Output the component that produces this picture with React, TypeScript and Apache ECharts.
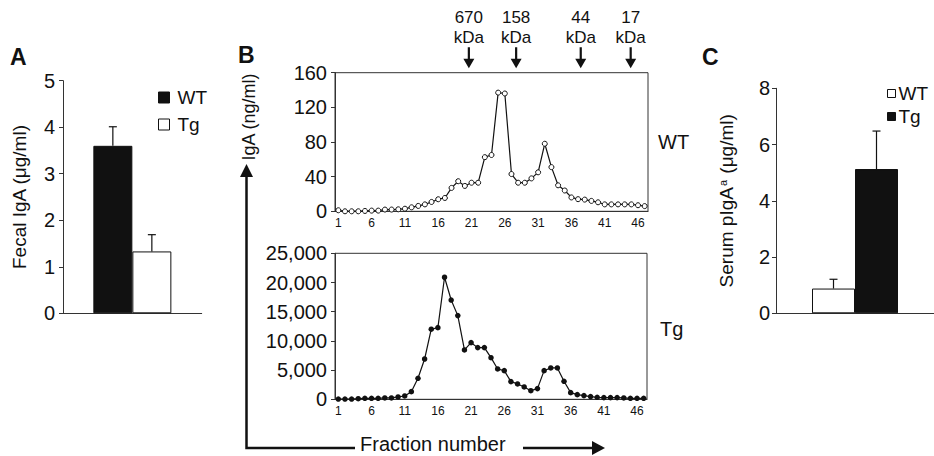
import React, { useEffect, useRef } from "react";
import * as echarts from "echarts";

// ---------- data ----------
const fractions = [
  "1","2","3","4","5","6","7","8","9","10","11","12","13","14","15","16","17","18","19","20",
  "21","22","23","24","25","26","27","28","29","30","31","32","33","34","35","36","37","38","39","40",
  "41","42","43","44","45","46","47",
];
// Panel B, WT serum fractions, IgA (ng/ml)
const wtIgA = [
  1.2, 0, 0, 0, 0.4, 0.8, 0.8, 2, 2, 2.3, 3, 4.6, 6.2, 8, 10.8, 13.9, 15.4, 27, 34.7, 29.3,
  33, 33, 62.5, 65, 137, 136, 43, 33, 33, 38, 45, 78, 51, 30, 24, 16, 14, 13.5, 12, 10.4,
  8, 8, 8, 8, 8, 7, 6,
];
// Panel B, Tg serum fractions, IgA (ng/ml)
const tgIgA = [
  50, 50, 50, 100, 170, 170, 170, 230, 230, 400, 570, 1310, 3600, 6900, 12000, 12270, 20900, 17000, 14330, 8450,
  9700, 8850, 8850, 7130, 5190, 4910, 3030, 2630, 2110, 1480, 1830, 4910, 5370, 5370, 3080, 1140, 800, 630, 460, 340,
  290, 290, 290, 230, 170, 170, 170,
];
// size markers (elution position in fraction number)
const markerLabels = ["670", "158", "44", "17"];
const markerFractions = [20.6, 27.7, 37.4, 44.9];

// Panel A: fecal IgA (µg/ml)
const groups = ["WT", "Tg"];
const fecalMean = [3.6, 1.33];
const fecalErr = [0.41, 0.36];
// Panel C: serum pIgA^a (µg/ml)
const serumMean = [0.88, 5.13];
const serumErr = [0.33, 1.35];

// ---------- styles ----------
const FONT = "'Liberation Sans', Arial, Helvetica, sans-serif";
const INK = "#111";
const AXIS = "#333";
const BAR_A = 39;
const BAR_C = 43;

const errorRender = (barW: number) => (params: any, api: any) => {
  const c = api.value(0);
  const m = api.value(1);
  const e = api.value(2);
  const side = api.value(3);
  const base = api.coord([c, m]);
  const top = api.coord([c, m + e]);
  const x = base[0] + (side * barW) / 2;
  const st = { stroke: INK, lineWidth: 1.2 };
  return {
    type: "group",
    children: [
      { type: "line", shape: { x1: x, y1: base[1], x2: x, y2: top[1] }, style: st },
      { type: "line", shape: { x1: x - 4, y1: top[1], x2: x + 4, y2: top[1] }, style: st },
    ],
  };
};

const yAxisBase = (grid: number) => ({
  gridIndex: grid,
  type: "value" as const,
  splitLine: { show: false },
  axisLine: { show: true, lineStyle: { color: AXIS, width: 1 } },
  axisTick: { show: true, length: 4, lineStyle: { color: AXIS } },
  axisLabel: { color: INK, fontSize: 20, fontFamily: FONT, margin: 8 },
});

export default function App() {
  const ref = useRef<HTMLDivElement>(null);
  useEffect(() => {
    if (!ref.current) return;
    const chart = echarts.init(ref.current, undefined, { renderer: "svg" });
    const option: any = {
      animation: false,
      backgroundColor: "#fff",
      textStyle: { fontFamily: FONT, color: INK },
      grid: [
        { left: 63, top: 80.7, width: 138.7, height: 232.6 },
        { left: 335, top: 72.7, width: 313, height: 138.6, show: true, borderColor: AXIS, borderWidth: 1, backgroundColor: "transparent" },
        { left: 335, top: 253.3, width: 312, height: 146, show: true, borderColor: AXIS, borderWidth: 1, backgroundColor: "transparent" },
        { left: 776, top: 88.3, width: 170, height: 225 },
      ],
      xAxis: [
        { gridIndex: 0, type: "category", data: ["Fecal IgA"], axisTick: { show: false }, axisLabel: { show: false }, axisLine: { lineStyle: { color: AXIS } } },
        {
          gridIndex: 1, type: "category", data: fractions, boundaryGap: true,
          axisLine: { lineStyle: { color: AXIS } },
          axisTick: { interval: 0, length: 4, lineStyle: { color: AXIS } },
          axisLabel: { interval: 4, fontSize: 12, margin: 6, color: INK },
        },
        { gridIndex: 1, type: "value", min: 0.5, max: 47.5, show: false },
        {
          gridIndex: 2, type: "category", data: fractions, boundaryGap: true,
          axisLine: { lineStyle: { color: AXIS } },
          axisTick: { interval: 0, length: 4, lineStyle: { color: AXIS } },
          axisLabel: { interval: 4, fontSize: 12, margin: 6, color: INK },
        },
        { gridIndex: 3, type: "category", data: ["Serum pIgA"], axisTick: { show: false }, axisLabel: { show: false }, axisLine: { lineStyle: { color: AXIS } } },
      ],
      yAxis: [
        {
          ...yAxisBase(0), min: 0, max: 5, interval: 1,
          name: "Fecal IgA (μg/ml)", nameLocation: "middle", nameGap: 34,
          nameTextStyle: { fontSize: 19, color: INK, fontFamily: FONT },
        },
        { ...yAxisBase(1), min: 0, max: 160, interval: 40 },
        {
          ...yAxisBase(2), min: 0, max: 25000, interval: 5000,
          axisLabel: { ...yAxisBase(2).axisLabel, formatter: (v: number) => v.toLocaleString("en-US") },
        },
        {
          ...yAxisBase(3), min: 0, max: 8, interval: 2,
          axisLabel: { ...yAxisBase(3).axisLabel, margin: 6 },
          name: "Serum pIgA{sup|a} (μg/ml)", nameLocation: "middle", nameGap: 40,
          nameTextStyle: {
            fontSize: 19, color: INK, fontFamily: FONT,
            rich: { sup: { fontSize: 11, fontFamily: FONT, color: INK, verticalAlign: "top", padding: [0, 1, 6, 1] } },
          },
        },
      ],
      legend: [
        {
          left: 158, top: 88, orient: "vertical", padding: 0, itemGap: 8, itemWidth: 11, itemHeight: 11, icon: "rect",
          textStyle: { fontSize: 19, color: INK, fontFamily: FONT, padding: [0, 0, 0, 3] },
          data: [
            { name: "WT", itemStyle: { color: INK, borderColor: INK, borderWidth: 1 } },
            { name: "Tg", itemStyle: { color: "#fff", borderColor: INK, borderWidth: 1 } },
          ],
        },
        {
          left: 887, top: 84, orient: "vertical", padding: 0, itemGap: 4, itemWidth: 8, itemHeight: 8, icon: "rect",
          textStyle: { fontSize: 19, color: INK, fontFamily: FONT, padding: [0, 0, 0, -2] },
          data: [
            { name: "WT", itemStyle: { color: "#fff", borderColor: INK, borderWidth: 1 } },
            { name: "Tg", itemStyle: { color: INK, borderColor: INK, borderWidth: 1 } },
          ],
        },
      ],
      series: [
        // Panel A bars
        { name: groups[0], type: "bar", xAxisIndex: 0, yAxisIndex: 0, data: [fecalMean[0]], barWidth: BAR_A, barGap: "0%", itemStyle: { color: INK, borderColor: INK, borderWidth: 1 } },
        { name: groups[1], type: "bar", xAxisIndex: 0, yAxisIndex: 0, data: [fecalMean[1]], barWidth: BAR_A, barGap: "0%", itemStyle: { color: "#fff", borderColor: INK, borderWidth: 1 } },
        {
          type: "custom", xAxisIndex: 0, yAxisIndex: 0, renderItem: errorRender(BAR_A), z: 5,
          data: [[0, fecalMean[0], fecalErr[0], -1], [0, fecalMean[1], fecalErr[1], 1]],
        },
        // Panel B lines
        {
          name: "WT serum", type: "line", xAxisIndex: 1, yAxisIndex: 1, data: wtIgA,
          symbol: "circle", symbolSize: 5, showAllSymbol: true,
          lineStyle: { color: INK, width: 1.2 },
          itemStyle: { color: "#fff", borderColor: INK, borderWidth: 1 },
        },
        {
          name: "markers", type: "scatter", xAxisIndex: 2, yAxisIndex: 1, clip: false,
          data: markerFractions.map((f, i) => ({ name: markerLabels[i], value: [f, 160] })),
          symbol: "path://M4,0 L6,0 L6,12 L10,12 L5,22 L0,12 L4,12 Z",
          symbolSize: [11, 21], symbolOffset: [0, -15],
          itemStyle: { color: INK, opacity: 1 },
          label: { show: true, position: "top", distance: 0, formatter: "{b}\nkDa", fontSize: 17, lineHeight: 20, color: INK, opacity: 1, fontFamily: FONT },
        },
        {
          name: "Tg serum", type: "line", xAxisIndex: 3, yAxisIndex: 2, data: tgIgA,
          symbol: "circle", symbolSize: 5.5, showAllSymbol: true,
          lineStyle: { color: INK, width: 1.2 },
          itemStyle: { color: INK },
        },
        // Panel C bars
        { name: groups[0], type: "bar", xAxisIndex: 4, yAxisIndex: 3, data: [serumMean[0]], barWidth: BAR_C, barGap: "0%", itemStyle: { color: "#fff", borderColor: INK, borderWidth: 1 } },
        { name: groups[1], type: "bar", xAxisIndex: 4, yAxisIndex: 3, data: [serumMean[1]], barWidth: BAR_C, barGap: "0%", itemStyle: { color: INK, borderColor: INK, borderWidth: 1 } },
        {
          type: "custom", xAxisIndex: 4, yAxisIndex: 3, renderItem: errorRender(BAR_C), z: 5,
          data: [[0, serumMean[0], serumErr[0], -1], [0, serumMean[1], serumErr[1], 1]],
        },
      ],
      graphic: [
        { type: "text", left: 10, top: 45, style: { text: "A", font: `bold 23px ${FONT}`, fill: INK } },
        { type: "text", left: 238, top: 43, style: { text: "B", font: `bold 23px ${FONT}`, fill: INK } },
        { type: "text", left: 702, top: 45, style: { text: "C", font: `bold 23px ${FONT}`, fill: INK } },
        { type: "text", x: 658, y: 142, style: { text: "WT", font: `20px ${FONT}`, fill: INK, verticalAlign: "middle" } },
        { type: "text", x: 660, y: 329, style: { text: "Tg", font: `20px ${FONT}`, fill: INK, verticalAlign: "middle" } },
        {
          type: "text", x: 249, y: 117, rotation: Math.PI / 2,
          style: { text: "IgA (ng/ml)", font: `18px ${FONT}`, fill: INK, align: "center", verticalAlign: "middle" },
        },
        { type: "polyline", shape: { points: [[246.5, 176], [246.5, 448], [355, 448]] }, style: { stroke: INK, lineWidth: 2.5, fill: "none" } },
        { type: "polygon", shape: { points: [[240, 177], [253, 177], [246.5, 164]] }, style: { fill: INK } },
        { type: "line", shape: { x1: 523, y1: 448, x2: 594, y2: 448 }, style: { stroke: INK, lineWidth: 2.5 } },
        { type: "polygon", shape: { points: [[592, 441], [592, 455], [605, 448]] }, style: { fill: INK } },
        { type: "text", x: 360, y: 444, style: { text: "Fraction number", font: `20px ${FONT}`, fill: INK, verticalAlign: "middle" } },
      ],
    };
    chart.setOption(option);
    return () => chart.dispose();
  }, []);
  return <div ref={ref} style={{ width: 934, height: 456, position: "absolute", left: 0, top: 0 }} />;
}
